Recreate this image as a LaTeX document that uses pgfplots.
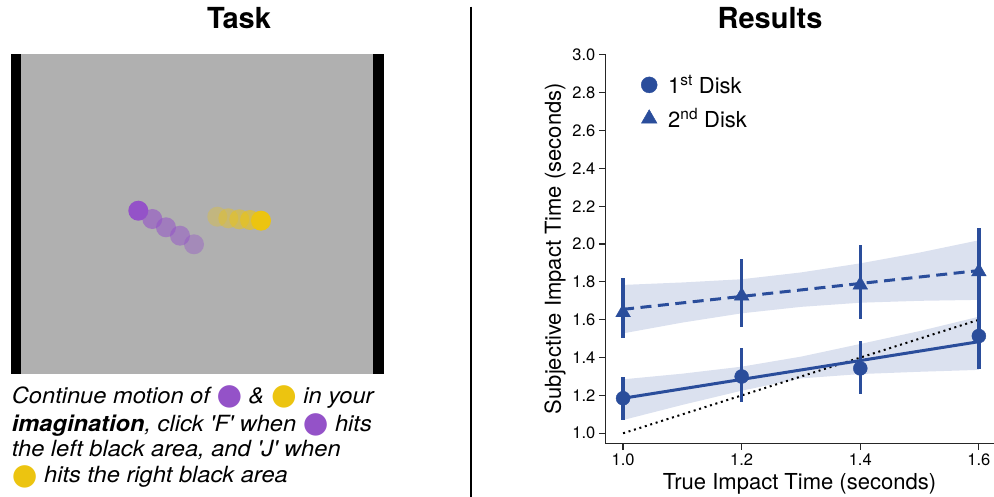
\documentclass[border=0pt]{standalone}
\usepackage{fontspec}
\setmainfont{TeX Gyre Heros}
\newfontfamily\capfont[FakeStretch=1.06]{TeX Gyre Heros}
\newfontfamily\symfont{DejaVu Sans}
\usepackage{pgfplots}
\pgfplotsset{compat=1.18}

\definecolor{diskblue}{RGB}{42,77,155}
\definecolor{bandblue}{RGB}{219,225,239}
\definecolor{boxgray}{RGB}{176,176,176}
\definecolor{purp}{RGB}{148,82,200}
\definecolor{yell}{RGB}{236,196,16}

% coloured disk set inline with the caption text
\newcommand{\disk}[1]{\raisebox{-1.3pt}{\smash{\fontsize{29.4}{29.4}\selectfont\symfont\textcolor{#1}{●}}}}
\newcommand{\q}{\textquotesingle}

\pgfplotsset{
  trail/.style 2 args={only marks, mark=*, mark size=10pt, color=#1,
    mark options={line width=0pt, draw opacity=0, fill opacity=#2}},
}

\begin{document}
\begin{tikzpicture}[x=1pt,y=1pt]
\useasboundingbox (0,0) rectangle (994,497);

% panel titles and separator
\node[anchor=base, font=\fontsize{29}{34}\selectfont\bfseries] at (239,468.7) {Task};
\node[anchor=base, font=\fontsize{29}{34}\selectfont\bfseries] at (770,468.7) {Results};
\draw[line width=2pt] (470.7,490.3) -- (470.7,0);

% ---------- task screen ----------
\begin{axis}[at={(0pt,0pt)}, anchor=south west, scale only axis,
  width=470pt, height=497pt, xmin=0, xmax=470, ymin=0, ymax=497,
  y dir=reverse, hide axis, clip=false]
\addplot[draw=none, fill=boxgray] coordinates {(10.7,54.3) (384,54.3) (384,374) (10.7,374)} -- cycle;
\addplot[draw=none, fill=black] coordinates {(10.7,54.3) (21.3,54.3) (21.3,374) (10.7,374)} -- cycle;
\addplot[draw=none, fill=black] coordinates {(373.3,54.3) (384,54.3) (384,374) (373.3,374)} -- cycle;
% purple disk trail (oldest first)
\addplot[trail={purp}{0.4}] coordinates {(194,244.3)};
\addplot[trail={purp}{0.5}] coordinates {(180,235.7)};
\addplot[trail={purp}{0.55}] coordinates {(166,227.3)};
\addplot[trail={purp}{0.6}] coordinates {(152.3,219)};
\addplot[trail={purp}{1}] coordinates {(138.3,210.7)};
% yellow disk trail
\addplot[trail={yell}{0.3}] coordinates {(217.3,216.7)};
\addplot[trail={yell}{0.4}] coordinates {(228.3,218.3)};
\addplot[trail={yell}{0.5}] coordinates {(239.3,219.3)};
\addplot[trail={yell}{0.6}] coordinates {(250,220)};
\addplot[trail={yell}{1}] coordinates {(261,220.7)};
\end{axis}

% instructions
\begin{scope}[every node/.style={anchor=base west, inner sep=0pt, font=\capfont\fontsize{22.3}{26}\selectfont\itshape}]
\node at (11.7,93.7) {Continue motion of \disk{purp} \& \disk{yell} in your};
\node at (11.7,65.3) {\textbf{imagination}, click \q F\q{} when \disk{purp} hits};
\node at (11.7,40) {the left black area, and \q J\q{} when};
\node at (11.7,14) {\disk{yell} hits the right black area};
\end{scope}

% ---------- results ----------
\begin{axis}[at={(605.3pt,53.7pt)}, anchor=south west, scale only axis,
  width=388.4pt, height=389.4pt,
  xmin=0.97, xmax=1.625, ymin=0.947, ymax=3.005,
  axis x line*=bottom, axis y line*=left,
  axis line style={line width=1.2pt, black!85},
  xtick={1.0,1.2,1.4,1.6}, ytick={1.0,1.2,1.4,1.6,1.8,2.0,2.2,2.4,2.6,2.8,3.0},
  tick align=outside, major tick length=6.5pt,
  tick style={line width=1.2pt, black!85},
  /pgf/number format/assume math mode=true,
  /pgf/number format/fixed, /pgf/number format/fixed zerofill, /pgf/number format/precision=1,
  ticklabel style={font=\fontsize{16.5}{19}\selectfont},
  xlabel={True Impact Time (seconds)},
  ylabel={Subjective Impact Time (seconds)},
  label style={font=\fontsize{22}{26}\selectfont},
  xlabel style={at={(axis description cs:0.5,-0.1199)}, anchor=base},
  ylabel style={at={(axis description cs:-0.1141,0.5)}, anchor=base},
  legend style={at={(axis description cs:0.0842,0.956)}, anchor=north west, draw=none, fill=none,
    font=\fontsize{22}{26}\selectfont, row sep=10pt,
    /tikz/every odd column/.append style={column sep=9pt}},
  legend cell align=left,
  clip=false]

\addlegendimage{only marks, mark=*, mark size=8pt, diskblue}
\addlegendentry{1\textsuperscript{st} Disk}
\addlegendimage{only marks, mark=triangle*, mark size=9pt, diskblue}
\addlegendentry{2\textsuperscript{nd} Disk}

% confidence bands of the fits
\addplot[forget plot, draw=none, fill=bandblue] coordinates {
 (1.0,1.285) (1.1,1.315) (1.2,1.352) (1.3,1.405) (1.4,1.472) (1.5,1.540) (1.6,1.616)
 (1.6,1.335) (1.5,1.325) (1.4,1.313) (1.3,1.290) (1.2,1.225) (1.1,1.150) (1.0,1.070)} -- cycle;
\addplot[forget plot, draw=none, fill=bandblue] coordinates {
 (1.0,1.784) (1.1,1.797) (1.2,1.814) (1.3,1.850) (1.4,1.898) (1.5,1.955) (1.6,2.020)
 (1.6,1.705) (1.5,1.700) (1.4,1.690) (1.3,1.668) (1.2,1.634) (1.1,1.585) (1.0,1.528)} -- cycle;

% identity line
\addplot[forget plot, black, line width=2pt, dash pattern=on 2pt off 3.7pt] coordinates {(1.0,1.0) (1.6,1.6)};

% linear fits
\addplot[forget plot, diskblue, line width=3pt] coordinates {(1.0,1.185) (1.6,1.484)};
\addplot[forget plot, diskblue, line width=3pt, dash pattern=on 11pt off 6.5pt] coordinates {(1.0,1.655) (1.6,1.860)};

% means with error bars
\addplot[forget plot, only marks, mark=*, mark size=7pt, diskblue,
  error bars/.cd, y dir=both, y explicit, error mark=none,
  error bar style={line width=3.3pt, diskblue}] coordinates {
  (1.0,1.185) += (0,0.115) -= (0,0.115)
  (1.2,1.300) += (0,0.149) -= (0,0.133)
  (1.4,1.343) += (0,0.146) -= (0,0.135)
  (1.6,1.514) += (0,0.176) -= (0,0.176)};
\addplot[forget plot, only marks, mark=triangle*, mark size=8.5pt, diskblue,
  error bars/.cd, y dir=both, y explicit, error mark=none,
  error bar style={line width=3.3pt, diskblue}] coordinates {
  (1.0,1.638) += (0,0.181) -= (0,0.136)
  (1.2,1.726) += (0,0.194) -= (0,0.166)
  (1.4,1.784) += (0,0.210) -= (0,0.181)
  (1.6,1.854) += (0,0.229) -= (0,0.214)};
\end{axis}
\end{tikzpicture}
\end{document}
